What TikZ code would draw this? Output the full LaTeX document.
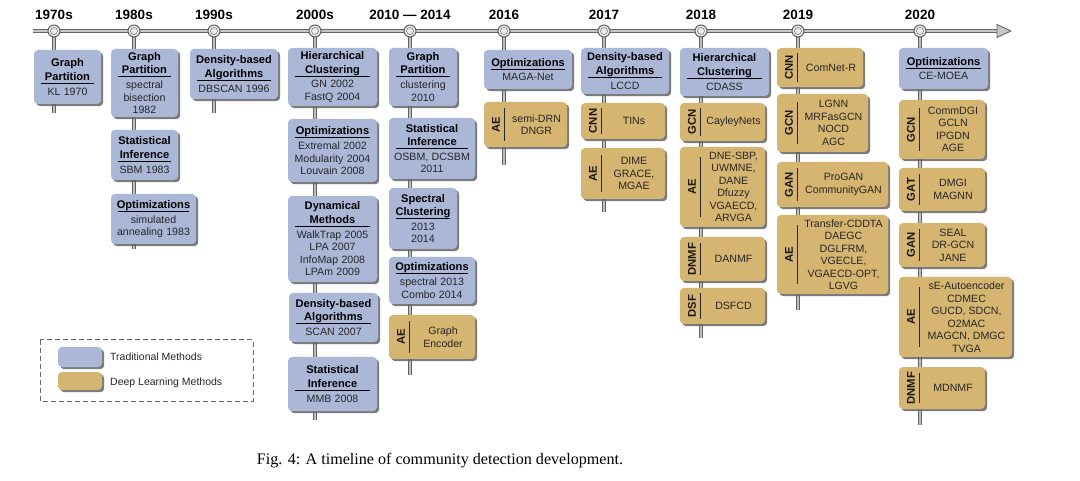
\documentclass[tikz,border=0pt]{standalone}
\usepackage{fontspec}
\setmainfont{Liberation Sans}
\newfontfamily\capfont{Liberation Serif}
\usetikzlibrary{shadows,calc}
\definecolor{tradblue}{RGB}{171,183,215}
\definecolor{deepgold}{RGB}{214,181,112}
\newcommand\TitleFnt{\fontsize{11.1}{13.4}\selectfont\bfseries}
\newcommand\BodyFnt{\fontsize{10.6}{12.5}\selectfont}
\tikzset{
  boxbase/.style={rectangle, rounded corners=4pt, inner sep=0pt, align=center,
    drop shadow={shadow xshift=2.2pt, shadow yshift=-2.2pt, fill=black!60, opacity=.85}},
  trad/.style={boxbase, fill=tradblue},
  deep/.style={boxbase, fill=deepgold},
  sidelab/.style={rotate=90, font=\fontsize{11.3}{11}\selectfont\bfseries, inner sep=0pt, text=black!90},
  sepline/.style={draw=black!85, line width=0.9pt},
  dbody/.style={align=center, font=\BodyFnt, inner sep=0pt, text=black!85},
  rail/.style={draw=black!60, double=black!22, double distance=2.2pt, line width=0.9pt},
  postline/.style={draw=black!62, double=black!25, double distance=1.5pt, line width=0.8pt},
  yearc/.style={circle, minimum size=12pt, inner sep=0pt, draw=black!62, line width=1pt, fill=black!8},
  yearin/.style={circle, minimum size=7pt, inner sep=0pt, draw=black!50, line width=0.6pt},
  yearlab/.style={font=\fontsize{13.5}{14}\selectfont\bfseries, inner sep=0pt},
  legtext/.style={font=\fontsize{10.5}{12}\selectfont, anchor=west, inner sep=0pt, text=black!85},
}
% traditional box: name, x1, y1, x2, y2, title, body
\newcommand\TB[7]{%
  \pgfmathsetmacro\bxw{#4-#2}\pgfmathsetmacro\bxh{#5-#3}%
  \pgfmathsetmacro\bxt{#4-#2-4}\pgfmathsetmacro\bxr{#4-#2-14}%
  \node[trad, minimum width=\bxw pt, minimum height=\bxh pt, text width=\bxt pt] (#1) at ({(#2+#4)/2},{(#3+#5)/2}) {%
    {\TitleFnt #6\par}\vskip-\prevdepth\nointerlineskip\vskip2.5pt
    \hbox to\linewidth{\hss\vrule width \bxr pt height .9pt\hss}%
    \nointerlineskip\vskip4pt{\BodyFnt\color{black!85}#7\par}};}
% deep box: name, x1, y1, x2, y2, label, body
\newcommand\DB[7]{%
  \pgfmathsetmacro\bxw{#4-#2}\pgfmathsetmacro\bxh{#5-#3}%
  \pgfmathsetmacro\bxi{0.12*(#5-#3)+1}%
  \node[deep, minimum width=\bxw pt, minimum height=\bxh pt] (#1) at ({(#2+#4)/2},{(#3+#5)/2}) {};
  \node[sidelab] (#1l) at ({#2+12},{(#3+#5)/2}) {#6};
  \draw[sepline] ([xshift=21pt,yshift=-\bxi pt]#1.north west) -- ([xshift=21pt,yshift=\bxi pt]#1.south west);
  \node[dbody] (#1t) at ({(#2+22+#4)/2},{(#3+#5)/2}) {#7};}
\begin{document}
\begin{tikzpicture}[x=1pt,y=-1pt]
\useasboundingbox (0,0) rectangle (1080,481);
\fill[white] (0,0) rectangle (1080,481);
% year positions
\coordinate (c70) at (54,31);  \coordinate (e70) at (54,113);
\coordinate (c80) at (134,31); \coordinate (e80) at (134,249);
\coordinate (c90) at (214,31); \coordinate (e90) at (214,113);
\coordinate (c00) at (315,31); \coordinate (e00) at (315,420);
\coordinate (c10) at (410,31); \coordinate (e10) at (410,375);
\coordinate (c16) at (504,31); \coordinate (e16) at (504,165);
\coordinate (c17) at (604,31); \coordinate (e17) at (604,212);
\coordinate (c18) at (701,31); \coordinate (e18) at (701,338);
\coordinate (c19) at (798,31); \coordinate (e19) at (798,310);
\coordinate (c20) at (920,31); \coordinate (e20) at (920,425);
\coordinate (ts) at (33,31); \coordinate (te) at (998,31);
% posts
\foreach \y in {70,80,90,00,10,16,17,18,19,20} {\draw[postline] (c\y) -- (e\y);}
% timeline
\draw[rail] (ts) -- (te);
\filldraw[draw=black!60, fill=black!22, line width=0.9pt, line join=round] (997,24.5) -- (1011,31) -- (997,37.5) -- cycle;
% year circles and labels
\foreach \y/\t in {70/1970s,80/1980s,90/1990s,00/2000s,10/2010 — 2014,16/2016,17/2017,18/2018,19/2019,20/2020} {
  \node[yearc] (y\y) at (c\y) {};
  \node[yearin] (yi\y) at (c\y) {};
  \node[yearlab] (yl\y) at ($(c\y)+(0,-16)$) {\t};
}
% 1970s
\TB{a1}{34}{50}{101}{104}{Graph\\Partition}{KL 1970}
% 1980s
\TB{b1}{111}{49}{178}{117}{Graph\\Partition}{spectral\\bisection\\1982}
\TB{b2}{111}{130}{178}{180}{Statistical\\Inference}{SBM 1983}
\TB{b3}{111}{194}{196}{244}{Optimizations}{simulated\\annealing 1983}
% 1990s
\TB{c1}{190}{49}{278}{99}{Density-based\\Algorithms}{DBSCAN 1996}
% 2000s
\TB{d1}{288}{48}{377}{106}{Hierarchical\\Clustering}{GN 2002\\FastQ 2004}
\TB{d2}{288}{119}{377}{182}{Optimizations}{Extremal 2002\\Modularity 2004\\Louvain 2008}
\TB{d3}{288}{196}{377}{282}{Dynamical\\Methods}{WalkTrap 2005\\LPA 2007\\InfoMap 2008\\LPAm 2009}
\TB{d4}{289}{293}{378}{342}{Density-based\\Algorithms}{SCAN 2007}
\TB{d5}{288}{357}{377}{411}{Statistical\\Inference}{MMB 2008}
% 2010-2014
\TB{e1}{389}{48}{457}{106}{Graph\\Partition}{clustering\\2010}
\TB{e2}{389}{118}{475}{179}{Statistical\\Inference}{OSBM, DCSBM\\2011}
\TB{e3}{389}{188}{457}{249}{Spectral\\Clustering}{2013\\2014}
\TB{e4}{389}{257}{475}{304}{Optimizations}{spectral 2013\\Combo 2014}
\DB{e5}{389}{315}{475}{359}{AE}{Graph\\Encoder}
% 2016
\TB{f1}{484}{50}{572}{89}{Optimizations}{MAGA-Net}
\DB{f2}{484}{102}{567}{147}{AE}{semi-DRN\\DNGR}
% 2017
\TB{g1}{581}{48}{669}{94}{Density-based\\Algorithms}{LCCD}
\DB{g2}{581}{103}{665}{139}{CNN}{TINs}
\DB{g3}{581}{148}{665}{199}{AE}{DIME\\GRACE,\\MGAE}
% 2018
\TB{h1}{680}{48}{769}{96}{Hierarchical\\Clustering}{CDASS}
\DB{h2}{680}{103}{765}{141}{GCN}{CayleyNets}
\DB{h3}{680}{147}{765}{227}{AE}{DNE-SBP,\\UWMNE,\\DANE\\Dfuzzy\\VGAECD,\\ARVGA}
\DB{h4}{680}{237}{765}{281}{DNMF}{DANMF}
\DB{h5}{680}{288}{765}{324}{DSF}{DSFCD}
% 2019
\DB{i1}{777}{48}{863}{87}{CNN}{ComNet-R}
\DB{i2}{777}{94}{868}{152}{GCN}{LGNN\\MRFasGCN\\NOCD\\AGC}
\DB{i3}{777}{162}{888}{207}{GAN}{ProGAN\\CommunityGAN}
\DB{i4}{777}{215}{888}{294}{AE}{Transfer-CDDTA\\DAEGC\\DGLFRM,\\VGECLE,\\VGAECD-OPT,\\LGVG}
% 2020
\TB{j1}{899}{48}{988}{89}{Optimizations}{CE-MOEA}
\DB{j2}{899}{100}{985}{159}{GCN}{CommDGI\\GCLN\\IPGDN\\AGE}
\DB{j3}{899}{168}{985}{211}{GAT}{DMGI\\MAGNN}
\DB{j4}{899}{223}{985}{267}{GAN}{SEAL\\DR-GCN\\JANE}
\DB{j5}{899}{277}{1012}{357}{AE}{sE-Autoencoder\\CDMEC\\GUCD, SDCN,\\O2MAC\\MAGCN, DMGC\\TVGA}
\DB{j6}{899}{367}{985}{409}{DNMF}{MDNMF}
% legend
\draw[black!60, line width=1pt, dash pattern=on 5pt off 3pt] (40,340) rectangle (253,401);
\node[trad, minimum width=44pt, minimum height=20pt] (legT) at (80,357) {};
\node[deep, minimum width=44pt, minimum height=18pt] (legD) at (80,381) {};
\node[legtext] (legTt) at (110,357) {Traditional Methods};
\node[legtext] (legDt) at (110,383) {Deep Learning Methods};
% caption
\node[font=\capfont\fontsize{16.1}{19}\selectfont, inner sep=0pt] (cap) at (440,461) {Fig. 4: A timeline of community detection development.};
\end{tikzpicture}
\end{document}
